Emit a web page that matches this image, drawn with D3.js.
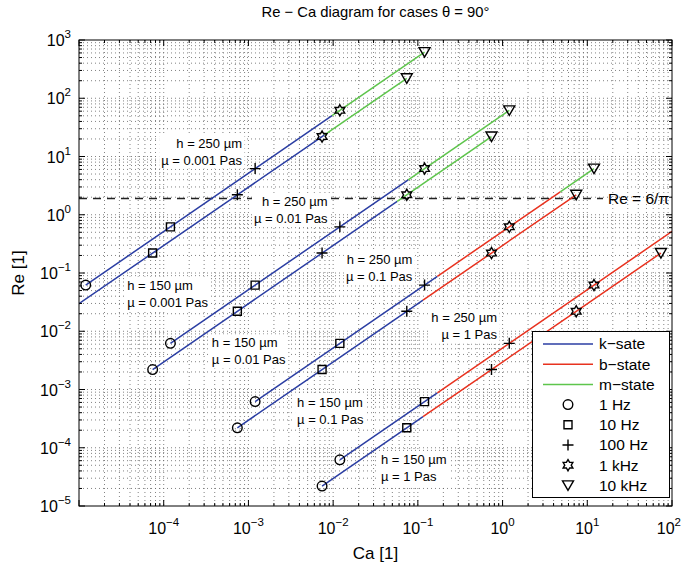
<!DOCTYPE html>
<html><head><meta charset="utf-8">
<script src="https://cdn.jsdelivr.net/npm/d3@7"></script>
<style>
body{margin:0;background:#fff;}
text{font-family:"Liberation Sans", Arial, Helvetica, sans-serif;fill:#000;}
</style>
</head><body>
<svg id="chart" width="682" height="571"></svg>
<script>
// ---------------- data ----------------
const freqLabels = ["1 Hz", "10 Hz", "100 Hz", "1 kHz", "10 kHz"];
const markerTypes = ["circle", "square", "plus", "hexagram", "triangle"];
const stateNames = ["k", "b", "m"];
const stateLabels = ["k\u2212sate", "b\u2212state", "m\u2212state"];
const xTickExps = [-4, -3, -2, -1, 0, 1, 2];
const yTickExps = [-5, -4, -3, -2, -1, 0, 1, 2, 3];

const lineH  = [250, 150, 250, 150, 250, 150, 250, 150];
const lineMu = [0.001, 0.001, 0.01, 0.01, 0.1, 0.1, 1, 1];

// Ca at 1 Hz, 10 Hz, 100 Hz, 1 kHz, 10 kHz
const caValues = [
  [1.2e-5, 1.2e-4, 1.2e-3, 1.2e-2, 1.2e-1],
  [7.4e-6, 7.4e-5, 7.4e-4, 7.4e-3, 7.4e-2],
  [1.2e-4, 1.2e-3, 1.2e-2, 1.2e-1, 1.2],
  [7.4e-5, 7.4e-4, 7.4e-3, 7.4e-2, 0.74],
  [1.2e-3, 1.2e-2, 1.2e-1, 1.2, 12],
  [7.4e-4, 7.4e-3, 7.4e-2, 0.74, 7.4],
  [1.2e-2, 1.2e-1, 1.2, 12, 120],
  [7.4e-3, 7.4e-2, 0.74, 7.4, 74]
];
// Re at the same frequencies
const reValues = [
  [0.062, 0.62, 6.2, 62, 620],
  [0.022, 0.22, 2.2, 22, 220],
  [0.0062, 0.062, 0.62, 6.2, 62],
  [0.0022, 0.022, 0.22, 2.2, 22],
  [6.2e-4, 6.2e-3, 0.062, 0.62, 6.2],
  [2.2e-4, 2.2e-3, 0.022, 0.22, 2.2],
  [6.2e-5, 6.2e-4, 6.2e-3, 0.062, 0.62],
  [2.2e-5, 2.2e-4, 2.2e-3, 0.022, 0.22]
];
// state sequence along each line and Ca where the state changes
const stateSeq = [["k","m"],["k","m"],["k","m"],["k","m"],["k","b","m"],["k","b"],["k","b"],["k","b"]];
const stateBreakCa = [[9.7e-3],[7.9e-3],[0.077],[0.057],[0.17, 4.8],[0.115],[0.17],[0.115]];

const reCritical = 6 / Math.PI;
const annotTexts = [
  ["h = 250 \u00b5m", "\u00b5 = 0.001 Pas"],
  ["h = 250 \u00b5m", "\u00b5 = 0.01 Pas"],
  ["h = 250 \u00b5m", "\u00b5 = 0.1 Pas"],
  ["h = 250 \u00b5m", "\u00b5 = 1 Pas"],
  ["h = 150 \u00b5m", "\u00b5 = 0.001 Pas"],
  ["h = 150 \u00b5m", "\u00b5 = 0.01 Pas"],
  ["h = 150 \u00b5m", "\u00b5 = 0.1 Pas"],
  ["h = 150 \u00b5m", "\u00b5 = 1 Pas"]
];
const annotCa = [8.4e-4, 8.6e-3, 8.6e-2, 8.6e-1, 3.7e-5, 3.7e-4, 3.75e-3, 3.67e-2];
const annotRe = [17, 1.7, 0.17, 0.017, 0.062, 0.0063, 6.1e-4, 6.2e-5];
const annotAnchor = ["end","end","end","end","start","start","start","start"];

// ---------------- layout ----------------
const L = 79, R = 672, T = 40, B = 506;
const colors = {k: "#2b3ea3", b: "#e8321f", m: "#5ec54c"};
const svg = d3.select("#chart");
const x = d3.scaleLog().domain([1e-5, 1e2]).range([L, R]);
const y = d3.scaleLog().domain([1e-5, 1e3]).range([B, T]);

svg.append("defs").append("clipPath").attr("id", "clip")
  .append("rect").attr("x", L).attr("y", T).attr("width", R - L).attr("height", B - T);

// grid values
function logVals(e0, e1) {
  const v = [];
  for (let e = e0; e < e1; e++) for (let k = 1; k <= 9; k++) v.push(k * Math.pow(10, e));
  v.push(Math.pow(10, e1));
  return v;
}
const xGrid = logVals(-5, 2), yGrid = logVals(-5, 3);

const grid = svg.append("g").attr("stroke", "#222").attr("stroke-width", 0.8)
  .attr("stroke-dasharray", "1,3").attr("opacity", 0.7);
xGrid.forEach(v => { const px = x(v); if (px > L + 1 && px < R - 1)
  grid.append("line").attr("x1", px).attr("x2", px).attr("y1", T).attr("y2", B); });
yGrid.forEach(v => { const py = y(v); if (py > T + 1 && py < B - 1)
  grid.append("line").attr("y1", py).attr("y2", py).attr("x1", L).attr("x2", R); });

// critical Re line
svg.append("line").attr("x1", L).attr("x2", 603).attr("y1", y(reCritical)).attr("y2", y(reCritical))
  .attr("stroke", "#222").attr("stroke-width", 1.5).attr("stroke-dasharray", "8,6");
svg.append("text").attr("x", 608).attr("y", y(reCritical)).attr("dy", "0.35em")
  .attr("font-size", 15.5).text("Re = 6/\u03c0");

// data lines
const plot = svg.append("g").attr("clip-path", "url(#clip)");
const lineGen = d3.line().x(d => x(d[0])).y(d => y(d[1]));
function reAt(i, c) {
  const ca = caValues[i], re = reValues[i];
  let j = 0;
  while (j < ca.length - 2 && c > ca[j + 1]) j++;
  const t = Math.log(c / ca[j]) / Math.log(ca[j + 1] / ca[j]);
  return re[j] * Math.pow(re[j + 1] / re[j], t);
}
caValues.forEach((ca, i) => {
  const bounds = [ca[0], ...stateBreakCa[i], ca[ca.length - 1]];
  stateSeq[i].forEach((st, s) => {
    const a = bounds[s], b = bounds[s + 1];
    const pts = [[a, reAt(i, a)]];
    ca.forEach((c, j) => { if (c > a && c < b) pts.push([c, reValues[i][j]]); });
    pts.push([b, reAt(i, b)]);
    plot.append("path").attr("d", lineGen(pts)).attr("fill", "none")
      .attr("stroke", colors[st]).attr("stroke-width", 1.5);
  });
});

// markers
function markerPath(type) {
  switch (type) {
    case "circle": return d3.arc()({innerRadius: 0, outerRadius: 4.8, startAngle: 0, endAngle: 2 * Math.PI});
    case "square": return "M-4,-4H4V4H-4Z";
    case "plus": return "M-5.5,0H5.5M0,-5.5V5.5";
    case "hexagram": {
      const Ro = 5.6, Ri = Ro / Math.sqrt(3); let p = "";
      for (let k = 0; k < 12; k++) {
        const r = k % 2 === 0 ? Ro : Ri;
        const ang = -Math.PI / 2 + k * Math.PI / 6;
        p += (k === 0 ? "M" : "L") + (r * Math.cos(ang)).toFixed(2) + "," + (r * Math.sin(ang)).toFixed(2);
      }
      return p + "Z";
    }
    case "triangle": return "M-5.5,-4.5L5.5,-4.5L0,5Z";
  }
}
const mk = svg.append("g").attr("clip-path", "url(#clip)");
caValues.forEach((ca, i) => {
  ca.forEach((c, j) => {
    mk.append("path").attr("d", markerPath(markerTypes[j]))
      .attr("transform", `translate(${x(c)},${y(reValues[i][j])})`)
      .attr("fill", "none").attr("stroke", "#000").attr("stroke-width", 1.4);
  });
});

// annotations with white background
annotTexts.forEach((lines, i) => {
  const g = svg.append("g");
  const px = x(annotCa[i]), py = y(annotRe[i]);
  const rect = g.append("rect").attr("fill", "#fff");
  const t = g.append("text").attr("font-size", 13).attr("text-anchor", annotAnchor[i]);
  lines.forEach((s, k) => t.append("tspan").attr("x", px).attr("y", py + k * 17).attr("dy", "0.35em").text(s));
  const bb = t.node().getBBox();
  rect.attr("x", bb.x - 2).attr("y", bb.y - 1).attr("width", bb.width + 4).attr("height", bb.height + 2);
});

// axes box and ticks
const ax = svg.append("g").attr("stroke", "#000").attr("stroke-width", 1);
xGrid.forEach(v => {
  const px = x(v); const major = Math.abs(Math.log10(v) - Math.round(Math.log10(v))) < 1e-9;
  const len = major ? 6 : 3;
  ax.append("line").attr("x1", px).attr("x2", px).attr("y1", B).attr("y2", B - len);
  ax.append("line").attr("x1", px).attr("x2", px).attr("y1", T).attr("y2", T + len);
});
yGrid.forEach(v => {
  const py = y(v); const major = Math.abs(Math.log10(v) - Math.round(Math.log10(v))) < 1e-9;
  const len = major ? 6 : 3;
  ax.append("line").attr("y1", py).attr("y2", py).attr("x1", L).attr("x2", L + len);
  ax.append("line").attr("y1", py).attr("y2", py).attr("x1", R).attr("x2", R - len);
});
ax.append("rect").attr("x", L).attr("y", T).attr("width", R - L).attr("height", B - T).attr("fill", "none");

// tick labels
function expStr(e) { return e < 0 ? "\u2212" + (-e) : String(e); }
xTickExps.forEach((e, k) => {
  const last = k === xTickExps.length - 1;
  const t = svg.append("text").attr("x", last ? 681 : x(Math.pow(10, e))).attr("y", 534)
    .attr("text-anchor", last ? "end" : "middle").attr("font-size", 16);
  t.append("tspan").text("10");
  t.append("tspan").attr("dy", -8).attr("font-size", 11.5).text(expStr(e));
});
yTickExps.forEach(e => {
  const t = svg.append("text").attr("x", 71).attr("y", y(Math.pow(10, e)) + 6)
    .attr("text-anchor", "end").attr("font-size", 16);
  t.append("tspan").text("10");
  t.append("tspan").attr("dy", -8).attr("font-size", 11.5).text(expStr(e));
});

// titles
svg.append("text").attr("x", (L + R) / 2).attr("y", 17).attr("text-anchor", "middle")
  .attr("font-size", 14.8).text("Re \u2212 Ca diagram for cases \u03b8 = 90\u00b0");
svg.append("text").attr("x", (L + R) / 2).attr("y", 559).attr("text-anchor", "middle")
  .attr("font-size", 17).text("Ca [1]");
svg.append("text").attr("transform", `translate(24,${(T + B) / 2}) rotate(-90)`)
  .attr("text-anchor", "middle").attr("font-size", 17).text("Re [1]");

// legend
const lg = svg.append("g");
lg.append("rect").attr("x", 532.5).attr("y", 331.5).attr("width", 137).attr("height", 166)
  .attr("fill", "#fff").attr("stroke", "#000").attr("stroke-width", 1);
const rowY = k => 344 + k * 20.2;
stateNames.forEach((s, k) => {
  lg.append("line").attr("x1", 543).attr("x2", 593).attr("y1", rowY(k)).attr("y2", rowY(k))
    .attr("stroke", colors[s]).attr("stroke-width", 1.5);
  lg.append("text").attr("x", 599).attr("y", rowY(k)).attr("dy", "0.35em").attr("font-size", 15.5).text(stateLabels[k]);
});
freqLabels.forEach((f, k) => {
  const yy = rowY(k + 3);
  lg.append("path").attr("d", markerPath(markerTypes[k])).attr("transform", `translate(568,${yy})`)
    .attr("fill", "none").attr("stroke", "#000").attr("stroke-width", 1.4);
  lg.append("text").attr("x", 599).attr("y", yy).attr("dy", "0.35em").attr("font-size", 15.5).text(f);
});
</script>
</body></html>
